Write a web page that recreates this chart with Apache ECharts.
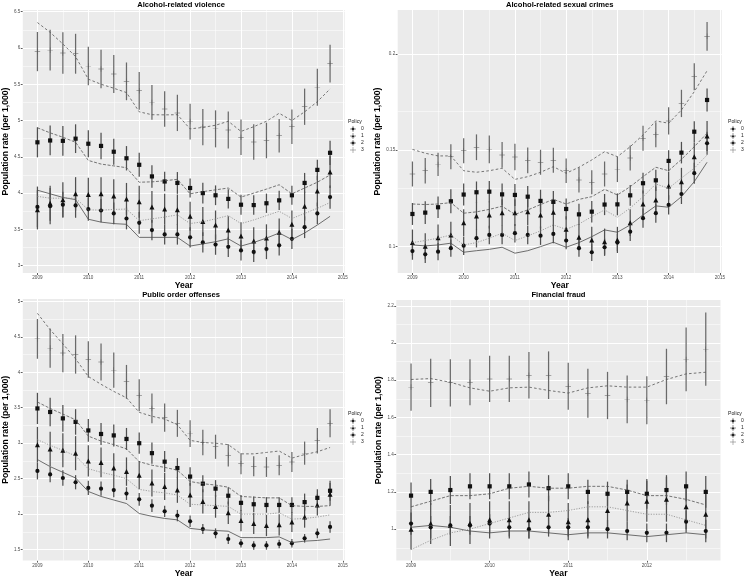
<!DOCTYPE html>
<html>
<head>
<meta charset="utf-8">
<script src="https://cdn.jsdelivr.net/npm/echarts@6.0.0/dist/echarts.min.js"></script>
<style>
html,body{margin:0;padding:0;background:#ffffff;}
#chart{width:745px;height:579px;}
</style>
</head>
<body>
<div id="chart"></div>
<script>
// ---------- categories / ticks ----------
const policies = ['0', '1', '2', '3'];
const quartersMain = [2009, 2009.25, 2009.5, 2009.75, 2010, 2010.25, 2010.5, 2010.75, 2011, 2011.25, 2011.5, 2011.75,
  2012, 2012.25, 2012.5, 2012.75, 2013, 2013.25, 2013.5, 2013.75, 2014, 2014.25, 2014.5, 2014.75];
const quartersFraud = [2009, 2009.25, 2009.5, 2009.75, 2010, 2010.25, 2010.5, 2010.75, 2011, 2011.25, 2011.5, 2011.75,
  2012, 2012.25, 2012.5, 2012.75];
const xTicksMain = [2009, 2010, 2011, 2012, 2013, 2014, 2015];
const xMinorMain = [2009.5, 2010.5, 2011.5, 2012.5, 2013.5, 2014.5];
const xTicksFraud = [2009, 2010, 2011, 2012];
const xMinorFraud = [2009.5, 2010.5, 2011.5, 2012.5];
const vioYTicks = [3, 3.5, 4, 4.5, 5, 5.5, 6, 6.5];
const vioYMinor = [3.25, 3.75, 4.25, 4.75, 5.25, 5.75, 6.25];
const sexYTicks = [0.1, 0.15, 0.2];
const sexYMinor = [0.125, 0.175];
const pubYTicks = [1.5, 2, 2.5, 3, 3.5, 4, 4.5, 5];
const pubYMinor = [1.75, 2.25, 2.75, 3.25, 3.75, 4.25, 4.75];
const frYTicks = [1, 1.2, 1.4, 1.6, 1.8, 2, 2.2];
const frYMinor = [0.9, 1.1, 1.3, 1.5, 1.7, 1.9, 2.1];

// ---------- Alcohol-related violence ----------
const vioMean0 = [3.81, 3.82, 3.84, 3.83, 3.78, 3.76, 3.72, 3.65, 3.59, 3.49, 3.43, 3.43, 3.39, 3.32, 3.29, 3.26, 3.21, 3.19, 3.23, 3.28, 3.37, 3.53, 3.72, 3.945];
const vioMean1 = [3.77, 3.86, 3.91, 3.99, 3.98, 3.99, 3.96, 3.92, 3.88, 3.81, 3.78, 3.77, 3.68, 3.61, 3.56, 3.49, 3.41, 3.34, 3.38, 3.46, 3.57, 3.82, 4.03, 4.29];
const vioMean2 = [4.70, 4.725, 4.72, 4.75, 4.68, 4.65, 4.57, 4.48, 4.39, 4.23, 4.16, 4.14, 4.07, 4.0, 3.97, 3.92, 3.84, 3.835, 3.86, 3.90, 3.97, 4.14, 4.32, 4.555];
const vioMean3 = [5.95, 5.97, 5.93, 5.92, 5.75, 5.71, 5.64, 5.54, 5.41, 5.25, 5.16, 5.105, 4.985, 4.91, 4.885, 4.87, 4.77, 4.705, 4.725, 4.79, 4.915, 5.19, 5.46, 5.785];
const vioErr0 = [0.28, 0.25, 0.18, 0.17, 0.16, 0.16, 0.15, 0.15, 0.15, 0.14, 0.14, 0.14, 0.14, 0.14, 0.14, 0.14, 0.14, 0.14, 0.14, 0.14, 0.14, 0.15, 0.15, 0.16];
const vioErr1 = [0.27, 0.24, 0.24, 0.23, 0.23, 0.23, 0.23, 0.22, 0.22, 0.22, 0.21, 0.21, 0.2, 0.2, 0.2, 0.19, 0.19, 0.19, 0.19, 0.19, 0.19, 0.2, 0.21, 0.22];
const vioErr2 = [0.207, 0.205, 0.205, 0.198, 0.185, 0.182, 0.179, 0.168, 0.165, 0.155, 0.135, 0.15, 0.132, 0.143, 0.136, 0.133, 0.137, 0.135, 0.133, 0.133, 0.131, 0.138, 0.14, 0.168];
const vioErr3 = [0.27, 0.28, 0.285, 0.275, 0.265, 0.265, 0.262, 0.26, 0.26, 0.24, 0.245, 0.25, 0.245, 0.25, 0.255, 0.255, 0.245, 0.245, 0.245, 0.232, 0.237, 0.25, 0.255, 0.26];
const vioFit0 = [4.04, 3.99, 3.94, 3.91, 3.64, 3.60, 3.58, 3.57, 3.39, 3.39, 3.39, 3.39, 3.27, 3.30, 3.33, 3.37, 3.27, 3.32, 3.38, 3.45, 3.36, 3.45, 3.56, 3.68];
const vioFit1 = [3.955, 3.93, 3.93, 3.93, 3.77, 3.765, 3.775, 3.78, 3.62, 3.645, 3.67, 3.70, 3.58, 3.605, 3.645, 3.69, 3.58, 3.63, 3.69, 3.75, 3.65, 3.72, 3.79, 3.87];
const vioFit2 = [4.90, 4.83, 4.77, 4.70, 4.45, 4.40, 4.375, 4.35, 4.15, 4.155, 4.17, 4.19, 3.99, 4.02, 4.045, 4.07, 3.945, 4.0, 4.055, 4.115, 3.99, 4.07, 4.15, 4.25];
const vioFit3 = [6.35, 6.215, 6.055, 5.88, 5.57, 5.50, 5.445, 5.385, 5.12, 5.08, 5.078, 5.08, 4.885, 4.905, 4.935, 4.99, 4.85, 4.915, 4.99, 5.10, 5.0, 5.12, 5.26, 5.435];

// ---------- Alcohol-related sexual crimes ----------
const sexMean0 = [0.0975, 0.0958, 0.0972, 0.099, 0.1003, 0.1042, 0.1059, 0.1059, 0.1068, 0.1059, 0.1055, 0.1064, 0.103, 0.099, 0.0969, 0.0995, 0.1019, 0.1076, 0.1146, 0.1172, 0.1215, 0.1272, 0.138, 0.1536];
const sexMean1 = [0.1019, 0.1, 0.1045, 0.1059, 0.1123, 0.1158, 0.1163, 0.1175, 0.1175, 0.118, 0.1163, 0.1177, 0.1088, 0.1047, 0.1033, 0.1024, 0.1033, 0.1123, 0.122, 0.1241, 0.1314, 0.1336, 0.1466, 0.1574];
const sexMean2 = [0.1168, 0.1175, 0.1203, 0.1234, 0.1269, 0.1281, 0.1284, 0.127, 0.1267, 0.1258, 0.1236, 0.1231, 0.1194, 0.1166, 0.118, 0.1217, 0.1218, 0.1265, 0.1328, 0.1343, 0.1444, 0.1487, 0.1596, 0.1761];
const sexMean3 = [0.1376, 0.1393, 0.1426, 0.1466, 0.1497, 0.1515, 0.1504, 0.1475, 0.1464, 0.1447, 0.1437, 0.1447, 0.1393, 0.1345, 0.1333, 0.1376, 0.14, 0.1459, 0.1562, 0.158, 0.1652, 0.1743, 0.1882, 0.2092];
const sexErr0 = [0.0045, 0.0045, 0.0045, 0.0045, 0.0048, 0.0048, 0.0048, 0.0048, 0.0048, 0.0048, 0.0048, 0.0048, 0.0045, 0.0045, 0.0045, 0.0045, 0.0045, 0.0048, 0.005, 0.005, 0.005, 0.0052, 0.0055, 0.006];
const sexErr1 = [0.0068, 0.0068, 0.0068, 0.0068, 0.007, 0.007, 0.007, 0.007, 0.007, 0.007, 0.007, 0.007, 0.0068, 0.0068, 0.0068, 0.0068, 0.0068, 0.007, 0.007, 0.007, 0.0072, 0.0072, 0.0075, 0.0078];
const sexErr2 = [0.0057, 0.0059, 0.0056, 0.0062, 0.0057, 0.0056, 0.0055, 0.0057, 0.0057, 0.0055, 0.0058, 0.0056, 0.0055, 0.0055, 0.0056, 0.0055, 0.0057, 0.0054, 0.0054, 0.0055, 0.0055, 0.0056, 0.0054, 0.006];
const sexErr3 = [0.0065, 0.0066, 0.0061, 0.0065, 0.0065, 0.0067, 0.0072, 0.0067, 0.0069, 0.0067, 0.0065, 0.0065, 0.0064, 0.0065, 0.0063, 0.0065, 0.0066, 0.0065, 0.0065, 0.0065, 0.0071, 0.0071, 0.007, 0.0075];
const sexFit0 = [0.1007, 0.1002, 0.1007, 0.1016, 0.0969, 0.0977, 0.0984, 0.0995, 0.0964, 0.0977, 0.0998, 0.1021, 0.0995, 0.1019, 0.105, 0.1085, 0.1073, 0.1111, 0.1163, 0.121, 0.1203, 0.1258, 0.1336, 0.1437];
const sexFit1 = [0.1019, 0.103, 0.1042, 0.1059, 0.1007, 0.1019, 0.1042, 0.1068, 0.103, 0.1054, 0.108, 0.1111, 0.1088, 0.1116, 0.1154, 0.1189, 0.1151, 0.1199, 0.1258, 0.1324, 0.1302, 0.1355, 0.1406, 0.1475];
const sexFit2 = [0.122, 0.1217, 0.122, 0.1227, 0.1172, 0.1179, 0.1192, 0.1208, 0.1166, 0.1189, 0.1217, 0.1244, 0.122, 0.1244, 0.1258, 0.1296, 0.1267, 0.131, 0.1362, 0.1411, 0.1393, 0.1452, 0.1518, 0.1588];
const sexFit3 = [0.1504, 0.1484, 0.147, 0.147, 0.1393, 0.1385, 0.1393, 0.1406, 0.1348, 0.1362, 0.1385, 0.1414, 0.138, 0.1411, 0.1449, 0.1492, 0.1466, 0.1518, 0.1579, 0.1652, 0.164, 0.1709, 0.1804, 0.1913];

// ---------- Public order offenses ----------
const pubMean0 = [2.61, 2.56, 2.51, 2.45, 2.37, 2.36, 2.34, 2.29, 2.21, 2.12, 2.04, 1.98, 1.90, 1.79, 1.73, 1.65, 1.59, 1.56, 1.56, 1.58, 1.59, 1.66, 1.73, 1.82];
const pubMean1 = [2.98, 2.92, 2.90, 2.86, 2.75, 2.73, 2.65, 2.60, 2.55, 2.44, 2.39, 2.34, 2.27, 2.18, 2.11, 2.02, 1.91, 1.87, 1.84, 1.85, 1.89, 1.96, 2.13, 2.28];
const pubMean2 = [3.49, 3.44, 3.35, 3.30, 3.18, 3.13, 3.11, 3.06, 3.0, 2.86, 2.74, 2.65, 2.53, 2.43, 2.36, 2.26, 2.16, 2.14, 2.13, 2.13, 2.13, 2.17, 2.23, 2.33];
const pubMean3 = [4.47, 4.34, 4.27, 4.25, 4.18, 4.145, 4.03, 3.865, 3.675, 3.49, 3.36, 3.28, 3.135, 3.01, 2.95, 2.83, 2.71, 2.675, 2.665, 2.69, 2.735, 2.86, 3.035, 3.28];
const pubErr0 = [0.12, 0.11, 0.11, 0.1, 0.1, 0.1, 0.1, 0.09, 0.09, 0.09, 0.08, 0.08, 0.08, 0.07, 0.07, 0.07, 0.06, 0.06, 0.06, 0.06, 0.06, 0.06, 0.07, 0.08];
const pubErr1 = [0.25, 0.24, 0.24, 0.24, 0.22, 0.21, 0.21, 0.2, 0.2, 0.19, 0.19, 0.18, 0.17, 0.17, 0.16, 0.16, 0.15, 0.15, 0.15, 0.15, 0.14, 0.15, 0.15, 0.16];
const pubErr2 = [0.22, 0.2, 0.19, 0.18, 0.16, 0.155, 0.155, 0.155, 0.15, 0.15, 0.15, 0.14, 0.13, 0.12, 0.12, 0.12, 0.11, 0.11, 0.11, 0.11, 0.11, 0.12, 0.12, 0.14];
const pubErr3 = [0.28, 0.277, 0.27, 0.27, 0.258, 0.26, 0.248, 0.238, 0.225, 0.21, 0.2, 0.19, 0.187, 0.18, 0.17, 0.157, 0.147, 0.14, 0.14, 0.14, 0.14, 0.163, 0.18, 0.197];
const pubFit0 = [2.77, 2.67, 2.59, 2.51, 2.32, 2.25, 2.20, 2.15, 2.01, 1.97, 1.94, 1.92, 1.80, 1.78, 1.77, 1.76, 1.67, 1.67, 1.67, 1.68, 1.60, 1.62, 1.63, 1.65];
const pubFit1 = [3.05, 2.97, 2.90, 2.82, 2.64, 2.59, 2.55, 2.50, 2.35, 2.32, 2.30, 2.27, 2.14, 2.13, 2.12, 2.11, 2.00, 2.00, 2.00, 2.02, 1.93, 1.94, 1.96, 1.99];
const pubFit2 = [3.58, 3.49, 3.41, 3.33, 3.10, 3.03, 2.98, 2.92, 2.74, 2.69, 2.66, 2.62, 2.46, 2.43, 2.41, 2.38, 2.25, 2.24, 2.23, 2.23, 2.12, 2.11, 2.11, 2.12];
const pubFit3 = [4.83, 4.60, 4.40, 4.19, 3.94, 3.83, 3.73, 3.64, 3.435, 3.38, 3.34, 3.26, 3.04, 3.01, 3.0, 2.98, 2.85, 2.85, 2.87, 2.89, 2.79, 2.84, 2.88, 2.94];

// ---------- Financial fraud ----------
const frMean0 = [1.03, 1.01, 1.02, 1.02, 1.03, 1.01, 1.00, 1.01, 1.01, 1.01, 1.00, 0.99, 0.98, 0.98, 1.04, 0.99];
const frMean1 = [1.0, 1.03, 1.02, 1.03, 1.05, 1.05, 1.05, 1.08, 1.04, 1.05, 1.10, 1.14, 1.15, 1.16, 1.12, 1.08];
const frMean2 = [1.18, 1.20, 1.21, 1.23, 1.23, 1.23, 1.24, 1.22, 1.23, 1.20, 1.19, 1.20, 1.19, 1.21, 1.23, 1.20];
const frMean3 = [1.763, 1.786, 1.786, 1.789, 1.807, 1.807, 1.827, 1.827, 1.768, 1.73, 1.718, 1.697, 1.693, 1.82, 1.912, 1.967];
const frErr0 = [0.06, 0.06, 0.05, 0.05, 0.05, 0.05, 0.05, 0.05, 0.05, 0.05, 0.05, 0.05, 0.05, 0.05, 0.06, 0.06];
const frErr1 = [0.11, 0.11, 0.11, 0.11, 0.1, 0.1, 0.1, 0.1, 0.1, 0.1, 0.1, 0.1, 0.11, 0.12, 0.12, 0.13];
const frErr2 = [0.07, 0.07, 0.075, 0.07, 0.07, 0.07, 0.07, 0.07, 0.07, 0.065, 0.065, 0.065, 0.08, 0.08, 0.08, 0.085];
const frErr3 = [0.127, 0.13, 0.127, 0.124, 0.124, 0.124, 0.125, 0.128, 0.126, 0.131, 0.127, 0.128, 0.129, 0.149, 0.171, 0.197];
const frFit0 = [1.01, 1.02, 1.01, 0.99, 0.98, 0.99, 0.99, 0.98, 0.97, 0.98, 0.98, 0.97, 0.96, 0.97, 0.98, 0.97];
const frFit1 = [0.89, 0.94, 0.98, 1.0, 1.03, 1.06, 1.09, 1.09, 1.10, 1.12, 1.12, 1.10, 1.08, 1.08, 1.05, 1.02];
const frFit2 = [1.12, 1.15, 1.18, 1.18, 1.19, 1.22, 1.23, 1.22, 1.22, 1.23, 1.23, 1.21, 1.18, 1.18, 1.16, 1.13];
const frFit3 = [1.804, 1.809, 1.789, 1.759, 1.741, 1.759, 1.763, 1.745, 1.731, 1.759, 1.77, 1.763, 1.763, 1.804, 1.834, 1.843];

// ---------- styling ----------
const FONT = '"Liberation Sans", Arial, Helvetica, sans-serif';
const PLUS = 'path://M0,4.6H10V5.4H0Z M4.6,0H5.4V10H4.6Z';
const SYMBOLS = ['circle', 'triangle', 'rect', PLUS];
const SYMSIZE = [4.2, 5, 4.2, 5.5];
const PT_COLOR = ['#111111', '#111111', '#111111', '#5a5a5a'];
const EB_COLOR = ['#505050', '#505050', '#505050', '#6a6a6a'];
const LN_COLOR = ['#4d4d4d', '#8a8a8a', '#555555', '#555555'];
const LN_TYPE = ['solid', [1.2, 1.4], [3, 1.6], [2.6, 2.2]];
const BAR = 'M4.6,0H5.4V10H4.6Z M0,4.6H10V5.4H0Z ';
const ICONS = [
  'path://' + BAR + 'M5,2.7A2.3,2.3,0,1,1,4.99,2.7Z',
  'path://' + BAR + 'M5,2.3L7.6,7H2.4Z',
  'path://' + BAR + 'M2.8,2.8H7.2V7.2H2.8Z',
  'path://' + BAR
];

const panels = [
  { title: 'Alcohol-related violence', x: quartersMain,
    mean: [vioMean0, vioMean1, vioMean2, vioMean3], err: [vioErr0, vioErr1, vioErr2, vioErr3], fit: [vioFit0, vioFit1, vioFit2, vioFit3],
    xTicks: xTicksMain, xMinor: xMinorMain, yTicks: vioYTicks, yMinor: vioYMinor,
    box: { left: 17.4, top: 10, width: 327.3, height: 263 }, xRange: [2008.7125, 2015.0375], yRange: [2.899, 6.523],
    yNameGap: 7, xNameGap: 7, titleTop: 1, legend: { left: 350, top: 119 } },
  { title: 'Alcohol-related sexual crimes', x: quartersMain,
    mean: [sexMean0, sexMean1, sexMean2, sexMean3], err: [sexErr0, sexErr1, sexErr2, sexErr3], fit: [sexFit0, sexFit1, sexFit2, sexFit3],
    xTicks: xTicksMain, xMinor: xMinorMain, yTicks: sexYTicks, yMinor: sexYMinor,
    box: { left: 397.7, top: 10, width: 324.1, height: 263 }, xRange: [2008.7125, 2015.0375], yRange: [0.0861, 0.2229],
    yNameGap: 10.5, xNameGap: 7, titleTop: 1, legend: { left: 730, top: 119 } },
  { title: 'Public order offenses', x: quartersMain,
    mean: [pubMean0, pubMean1, pubMean2, pubMean3], err: [pubErr0, pubErr1, pubErr2, pubErr3], fit: [pubFit0, pubFit1, pubFit2, pubFit3],
    xTicks: xTicksMain, xMinor: xMinorMain, yTicks: pubYTicks, yMinor: pubYMinor,
    box: { left: 17.4, top: 299, width: 327.3, height: 264 }, xRange: [2008.7125, 2015.0375], yRange: [1.346, 5.032],
    yNameGap: 7, xNameGap: 7, titleTop: 291, legend: { left: 350, top: 411 } },
  { title: 'Financial fraud', x: quartersFraud,
    mean: [frMean0, frMean1, frMean2, frMean3], err: [frErr0, frErr1, frErr2, frErr3], fit: [frFit0, frFit1, frFit2, frFit3],
    xTicks: xTicksFraud, xMinor: xMinorFraud, yTicks: frYTicks, yMinor: frYMinor,
    box: { left: 396.3, top: 300, width: 324.2, height: 263 }, xRange: [2008.8125, 2012.9375], yRange: [0.831, 2.231],
    yNameGap: 9.5, xNameGap: 7, titleTop: 291, legend: { left: 730, top: 411 } }
];

const grids = [], xAxes = [], yAxes = [], series = [], titles = [], legends = [], graphics = [];

panels.forEach((p, i) => {
  grids.push({ left: p.box.left, top: p.box.top, width: p.box.width, height: p.box.height,
    show: true, backgroundColor: '#ebebeb', borderWidth: 0 });
  const axisTitle = { fontSize: 8.6, fontWeight: 'bold', color: '#000', fontFamily: FONT };
  xAxes.push({ type: 'value', gridIndex: i, min: p.xRange[0], max: p.xRange[1],
    name: 'Year', nameLocation: 'middle', nameGap: p.xNameGap, nameTextStyle: axisTitle,
    axisLine: { show: false },
    axisTick: { show: true, length: 2, customValues: p.xTicks, lineStyle: { color: '#333', width: 0.8 } },
    axisLabel: { show: true, customValues: p.xTicks, formatter: v => String(v), fontSize: 4.6, color: '#4d4d4d', margin: 2.5, fontFamily: FONT },
    splitLine: { show: false } });
  yAxes.push({ type: 'value', gridIndex: i, min: p.yRange[0], max: p.yRange[1],
    name: 'Population rate (per 1,000)', nameLocation: 'middle', nameGap: p.yNameGap, nameTextStyle: axisTitle,
    axisLine: { show: false },
    axisTick: { show: true, length: 2, customValues: p.yTicks, lineStyle: { color: '#333', width: 0.8 } },
    axisLabel: { show: true, customValues: p.yTicks, formatter: v => String(v), fontSize: 4.6, color: '#4d4d4d', margin: 2.5, fontFamily: FONT },
    splitLine: { show: false } });

  // grid lines (minor then major)
  const gl = [];
  p.yMinor.forEach(v => gl.push({ yAxis: v, lineStyle: { color: '#ffffff', width: 0.5, type: 'solid' } }));
  p.xMinor.forEach(v => gl.push({ xAxis: v, lineStyle: { color: '#ffffff', width: 0.5, type: 'solid' } }));
  p.yTicks.forEach(v => gl.push({ yAxis: v, lineStyle: { color: '#ffffff', width: 1, type: 'solid' } }));
  p.xTicks.filter(v => v <= p.xRange[1]).forEach(v => gl.push({ xAxis: v, lineStyle: { color: '#ffffff', width: 1, type: 'solid' } }));
  series.push({ type: 'line', xAxisIndex: i, yAxisIndex: i, data: [], silent: true, z: 1,
    markLine: { silent: true, z: 1, symbol: 'none', label: { show: false }, emphasis: { disabled: true }, animation: false, data: gl } });

  for (let j = 0; j < 4; j++) {
    const ebColor = EB_COLOR[j];
    series.push({ type: 'custom', xAxisIndex: i, yAxisIndex: i, silent: true, z: 3,
      data: p.x.map((xx, k) => [xx, p.mean[j][k] - p.err[j][k], p.mean[j][k] + p.err[j][k]]),
      encode: { x: 0, y: [1, 2] },
      renderItem: (params, api) => {
        const a = api.coord([api.value(0), api.value(1)]);
        const b = api.coord([api.value(0), api.value(2)]);
        return { type: 'line', shape: { x1: a[0], y1: a[1], x2: b[0], y2: b[1] },
          style: { stroke: ebColor, lineWidth: 1.25 } };
      } });
  }
  for (let j = 0; j < 4; j++) {
    series.push({ type: 'scatter', name: policies[j], xAxisIndex: i, yAxisIndex: i, silent: true, z: 4,
      symbol: SYMBOLS[j], symbolSize: SYMSIZE[j], itemStyle: { color: PT_COLOR[j], opacity: 1 },
      data: p.x.map((xx, k) => [xx, p.mean[j][k]]) });
  }
  for (let j = 0; j < 4; j++) {
    series.push({ type: 'line', name: 'fit' + j, xAxisIndex: i, yAxisIndex: i, silent: true, z: 5,
      showSymbol: false, symbol: 'none',
      lineStyle: { color: LN_COLOR[j], width: 0.8, type: LN_TYPE[j] },
      data: p.x.map((xx, k) => [xx, p.fit[j][k]]) });
  }

  titles.push({ text: p.title, left: p.box.left + p.box.width / 2, top: p.titleTop, textAlign: 'center', padding: 0,
    textStyle: { fontSize: 7.6, fontWeight: 'bold', color: '#000', fontFamily: FONT } });

  legends.push({ orient: 'vertical', left: p.legend.left, top: p.legend.top + 7, padding: 0,
    itemWidth: 6, itemHeight: 6, itemGap: 1, selectedMode: false,
    textStyle: { fontSize: 5, color: '#1a1a1a', fontFamily: FONT },
    data: policies.map((n, j) => ({ name: n, icon: ICONS[j], itemStyle: { color: j === 3 ? '#666' : '#222' } })) });
  graphics.push({ type: 'text', left: p.legend.left - 2, top: p.legend.top, silent: true,
    style: { text: 'Policy', fontSize: 5.2, fontFamily: FONT, fill: '#1a1a1a' } });
});

const chart = echarts.init(document.getElementById('chart'), null, { renderer: 'canvas', width: 745, height: 579 });
chart.setOption({
  animation: false,
  backgroundColor: '#ffffff',
  textStyle: { fontFamily: FONT },
  title: titles,
  grid: grids,
  xAxis: xAxes,
  yAxis: yAxes,
  legend: legends,
  graphic: graphics,
  series: series
});
</script>
</body>
</html>
